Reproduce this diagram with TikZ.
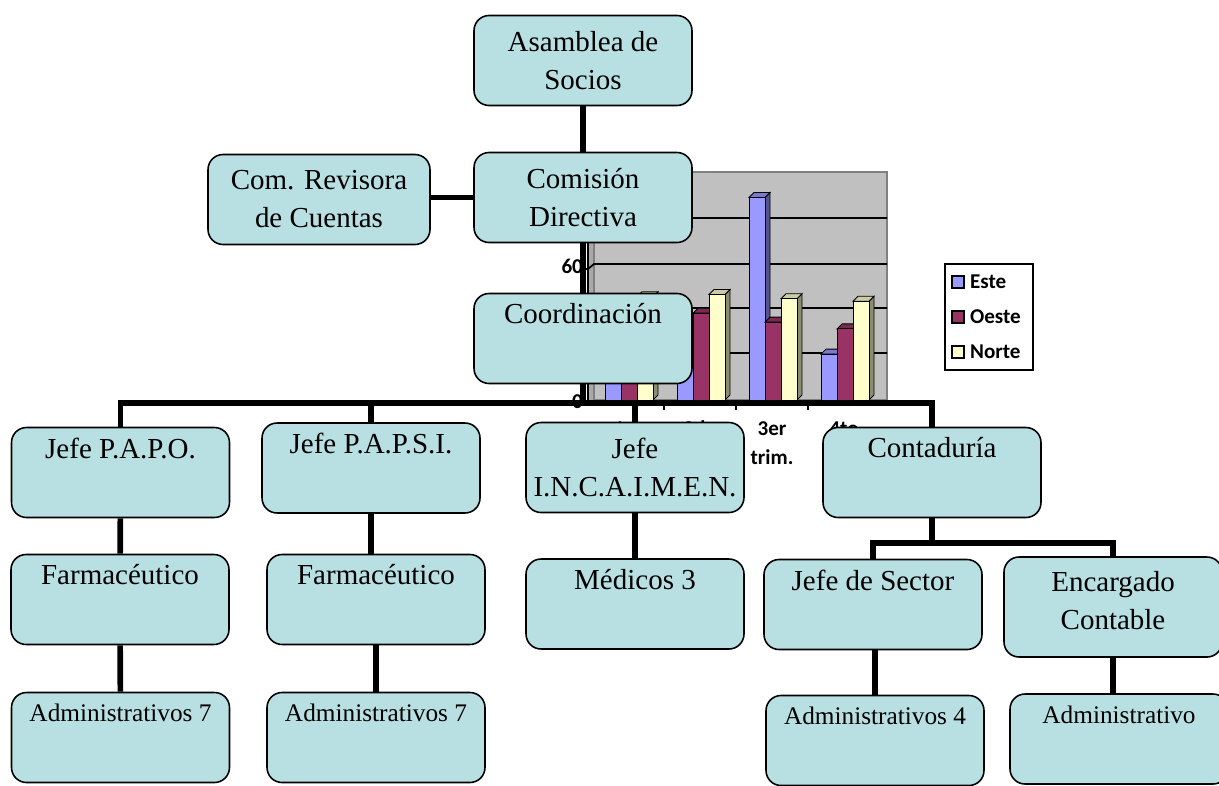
\documentclass[tikz,border=0pt]{standalone}
\usepackage{fontspec}
\setmainfont{Liberation Serif}
\newfontfamily\chartfont{Carlito}
\usetikzlibrary{positioning}

\definecolor{boxfill}{RGB}{184,223,226}
\definecolor{wallgray}{RGB}{192,192,192}
\definecolor{esteblue}{RGB}{153,153,255}
\definecolor{oestewine}{RGB}{153,51,102}
\definecolor{nortecream}{RGB}{255,255,204}

\tikzstyle{orgbox} = [rectangle, rounded corners=0.3cm, minimum width=4.36cm, minimum height=1.8cm, align=center, draw=black, line width=0.9pt, fill=boxfill, font=\fontsize{16.5}{21.6}\selectfont]
\tikzstyle{smallbox} = [orgbox, font=\fontsize{14.4}{21.6}\selectfont]
\tikzstyle{link} = [line width=3.2pt]
\tikzstyle{bar} = [draw=black, line width=0.5pt]
\tikzstyle{chartlabel} = [inner sep=1pt, font=\chartfont\bfseries\fontsize{12}{16.4}\selectfont]

\begin{document}
\begin{tikzpicture}[x=0.02cm, y=-0.02cm]
\useasboundingbox (0,0) rectangle (1219,785);

% chart behind the org chart
\fill[wallgray!88!black] (588,177) -- (594,172) -- (594,400) -- (588,405) -- cycle;
\fill[wallgray] (594,172) rectangle (887,400);
\draw[gray, line width=1pt] (594,172) rectangle (887,400);
\foreach \gy in {218,264,308,353}
  \draw[line width=1pt] (588,\gy+5) -- (594,\gy) -- (887,\gy);
\draw[line width=1.2pt] (588,177) -- (588,405);
\foreach \gy in {177,223,269,313,358,405}
  \draw[line width=0.8pt] (584,\gy) -- (588,\gy);
\foreach \tx in {664,736,808}
  \draw[line width=0.8pt] (\tx,403) -- (\tx,410);
\foreach \cat/\vE/\vO/\vN in {0/20.4/30.6/45.9, 1/27.4/38.6/46.9, 2/90/34.6/45, 3/20.4/31.6/43.9}{
  \foreach \ser/\val/\barcol in {0/\vE/esteblue, 1/\vO/oestewine, 2/\vN/nortecream}{
    \pgfmathsetmacro\bx{605+72*\cat+16*\ser}
    \pgfmathsetmacro\by{400-2.25*\val}
    \filldraw[bar, fill=\barcol!55!black] (\bx+16,\by) -- ++(5,-5) -- (\bx+21,395) -- (\bx+16,400) -- cycle;
    \filldraw[bar, fill=\barcol!80!black] (\bx,\by) -- ++(5,-5) -- ++(16,0) -- ++(-5,5) -- cycle;
    \filldraw[bar, fill=\barcol] (\bx,\by) rectangle (\bx+16,400);
  }
}
\node (ysixty) [chartlabel, anchor=east] at (585,266) {60};
\node (yzero) [chartlabel, anchor=east] at (585,402) {0};
\foreach \cat/\lab in {0/1er, 1/2do, 2/3er, 3/4to}
  \node (cat\cat) [chartlabel, align=center] at (628+72*\cat,443) {\lab\\trim.};
\draw[line width=1pt, fill=white] (945,264) rectangle (1033,370);
\foreach \idx/\barcol/\lab in {0/esteblue/Este, 1/oestewine/Oeste, 2/nortecream/Norte}{
  \filldraw[line width=1pt, fill=\barcol] (952,276+35*\idx) rectangle (964,288+35*\idx);
  \node (leg\idx) [chartlabel, anchor=west] at (968,282+35*\idx) {\lab};
}

% org chart
\node (asamblea) [orgbox] at (583,60.5) {Asamblea de\\Socios};
\node (comision) [orgbox] at (583,197.5) {Comisión\\Directiva};
\node (revisora) [orgbox, minimum width=4.44cm] at (319,199.5) {Com. Revisora\\de Cuentas};
\node (coord) [orgbox] at (583,338.5) {Coordinación\\\strut};
\node (papo) [orgbox] at (120.5,472.5) {Jefe P.A.P.O.\\\strut};
\node (papsi) [orgbox] at (371,468) {Jefe P.A.P.S.I.\\\strut};
\node (incaimen) [orgbox] at (635,467.5) {Jefe\\I.N.C.A.I.M.E.N.};
\node (conta) [orgbox] at (932,472.5) {Contaduría\\\strut};
\node (farmA) [orgbox] at (120,599.5) {Farmacéutico\\\strut};
\node (farmB) [orgbox] at (376,599.5) {Farmacéutico\\\strut};
\node (adminA) [smallbox] at (120.5,737.5) {Administrativos 7\\\strut};
\node (adminB) [smallbox] at (376,737.5) {Administrativos 7\\\strut};
\node (medicos) [orgbox] at (635,604) {Médicos 3\\\strut};
\node (sector) [orgbox] at (873,604.5) {Jefe de Sector\\\strut};
\node (encargado) [orgbox, minimum height=2cm, text depth=0.26cm] at (1113,607) {Encargado\\Contable};
\node (admin4) [smallbox] at (875,740.5) {Administrativos 4\\\strut};
\node (adminC) [smallbox] at (1119,739) {Administrativo\\\strut};

\coordinate (bus) at (583,403);
\coordinate (contabus) at (932,543);

\draw [link] (asamblea) -- (comision);
\draw [link] (comision.west -| revisora.east) -- (comision.west);
\draw [link] (comision) -- (coord);
\draw [link] (coord) -- (bus);
\draw [link] (papo.north) |- (bus) -| (conta.north);
\draw [link] (papsi) -- (papsi.north |- bus);
\draw [link] (incaimen) -- (incaimen.north |- bus);
\draw [link] (papo) -- (farmA);
\draw [link] (farmA) -- (adminA);
\draw [link] (papsi.south) -- (papsi.south |- farmB.north);
\draw [link] (farmB) -- (adminB);
\draw [link] (incaimen) -- (medicos);
\draw [link] (conta) -- (contabus);
\draw [link] (sector.north) |- (contabus) -| (encargado.north);
\draw [link] (sector.south -| admin4.north) -- (admin4.north);
\draw [link] (encargado.south) -- (encargado.south |- adminC.north);

\end{tikzpicture}
\end{document}
